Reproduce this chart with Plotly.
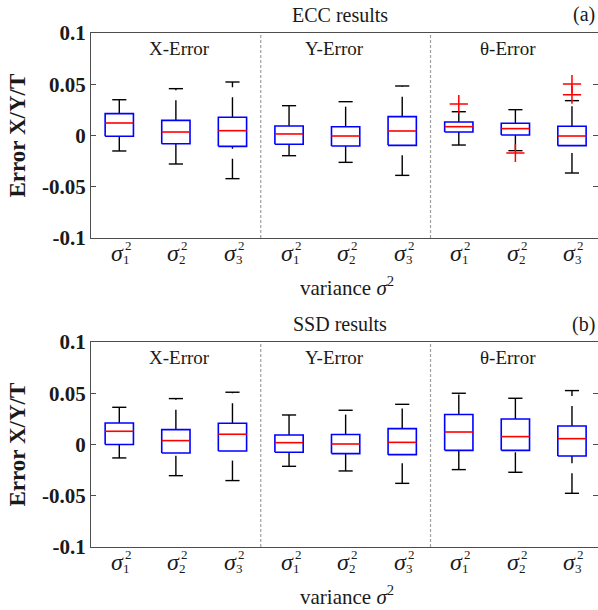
import plotly.graph_objects as go

# ---------------- data ----------------
groups = ["X-Error", "Y-Error", "θ-Error"]
variance_idx = ["1", "2", "3"]
positions = [1, 2, 3, 4, 5, 6, 7, 8, 9]

ecc_lower = [-0.0151, -0.0278, -0.0421, -0.0197, -0.0262, -0.0389, -0.0093, -0.0148, -0.0366]
ecc_q1 = [-0.0008, -0.0080, -0.0106, -0.0086, -0.0102, -0.0096, 0.0034, 0.0005, -0.0099]
ecc_median = [0.0122, 0.0034, 0.0047, 0.0015, -0.0005, 0.0044, 0.0086, 0.0067, -0.0005]
ecc_q3 = [0.0213, 0.0148, 0.0178, 0.0093, 0.0086, 0.0184, 0.0132, 0.0119, 0.0090]
ecc_upper = [0.0349, 0.0457, 0.0522, 0.0291, 0.0330, 0.0483, 0.0232, 0.0252, 0.0340]
ecc_out_pos = [7, 8, 9, 9]
ecc_out_val = [0.0307, -0.0170, 0.0502, 0.0398]

ssd_lower = [-0.0131, -0.0304, -0.0352, -0.0213, -0.0258, -0.0379, -0.0245, -0.0271, -0.0476]
ssd_q1 = [0.0000, -0.0083, -0.0063, -0.0076, -0.0089, -0.0099, -0.0057, -0.0057, -0.0112]
ssd_median = [0.0129, 0.0038, 0.0100, 0.0018, 0.0005, 0.0021, 0.0122, 0.0077, 0.0057]
ssd_q3 = [0.0210, 0.0145, 0.0207, 0.0093, 0.0097, 0.0155, 0.0292, 0.0249, 0.0181]
ssd_upper = [0.0363, 0.0448, 0.0510, 0.0288, 0.0334, 0.0392, 0.0500, 0.0451, 0.0526]
ssd_out_pos = []
ssd_out_val = []

y_ticks = [-0.1, -0.05, 0, 0.05, 0.1]
y_ticktext = ["-0.1", "-0.05", "0", "0.05", "0.1"]
panel_titles = ["ECC results", "SSD results"]
panel_tags = ["(a)", "(b)"]

# ---------------- layout geometry ----------------
W, H = 598, 610
ML, MR, MT, MB = 91, 0, 33, 63
PW = W - ML - MR
PH = H - MT - MB


def py(ypx):
    return (H - MB - ypx) / PH


def px(xpx):
    return (xpx - ML) / PW


SERIF = "'Liberation Serif', 'Times New Roman', Times, serif"
TXT = "#1a1a1a"
BOX_W = 0.5
CAP_W = 0.25

fig = go.Figure()

panels = [
    dict(lo=ecc_lower, q1=ecc_q1, med=ecc_median, q3=ecc_q3, up=ecc_upper,
         op=ecc_out_pos, ov=ecc_out_val, xa="x", ya="y", top=33, bot=238),
    dict(lo=ssd_lower, q1=ssd_q1, med=ssd_median, q3=ssd_q3, up=ssd_upper,
         op=ssd_out_pos, ov=ssd_out_val, xa="x2", ya="y2", top=342, bot=547),
]

for p in panels:
    for i, x in enumerate(positions):
        # whiskers (dashed)
        fig.add_trace(go.Scatter(x=[x, x], y=[p["q3"][i], p["up"][i]], mode="lines",
                                 line=dict(color="black", width=1.4, dash="20px,10px"),
                                 xaxis=p["xa"], yaxis=p["ya"], showlegend=False, hoverinfo="skip"))
        fig.add_trace(go.Scatter(x=[x, x], y=[p["lo"][i], p["q1"][i]], mode="lines",
                                 line=dict(color="black", width=1.4, dash="20px,10px"),
                                 xaxis=p["xa"], yaxis=p["ya"], showlegend=False, hoverinfo="skip"))
        # caps
        fig.add_trace(go.Scatter(x=[x - CAP_W / 2, x + CAP_W / 2, None, x - CAP_W / 2, x + CAP_W / 2],
                                 y=[p["up"][i], p["up"][i], None, p["lo"][i], p["lo"][i]],
                                 mode="lines", line=dict(color="black", width=1.4),
                                 xaxis=p["xa"], yaxis=p["ya"], showlegend=False, hoverinfo="skip"))
        # box
        fig.add_trace(go.Scatter(x=[x - BOX_W / 2, x + BOX_W / 2, x + BOX_W / 2, x - BOX_W / 2, x - BOX_W / 2],
                                 y=[p["q1"][i], p["q1"][i], p["q3"][i], p["q3"][i], p["q1"][i]],
                                 mode="lines", line=dict(color="#0000ff", width=1.6),
                                 xaxis=p["xa"], yaxis=p["ya"], showlegend=False, hoverinfo="skip"))
        # median
        fig.add_trace(go.Scatter(x=[x - BOX_W / 2, x + BOX_W / 2], y=[p["med"][i], p["med"][i]],
                                 mode="lines", line=dict(color="#ff0000", width=1.6),
                                 xaxis=p["xa"], yaxis=p["ya"], showlegend=False, hoverinfo="skip"))
    if p["op"]:
        fig.add_trace(go.Scatter(x=p["op"], y=p["ov"], mode="markers",
                                 marker=dict(symbol="cross-thin", size=13,
                                             line=dict(color="#ff0000", width=1.5)),
                                 xaxis=p["xa"], yaxis=p["ya"], showlegend=False, hoverinfo="skip"))

ax_common = dict(range=[0.5, 9.46], showgrid=False, zeroline=False, showline=True,
                 linecolor="#4d4d4d", linewidth=1.3, mirror=True, ticks="",
                 showticklabels=False, fixedrange=True)
ay_common = dict(range=[-0.1, 0.1], showgrid=False, zeroline=False, showline=True,
                 linecolor="#4d4d4d", linewidth=1.3, ticks="inside", ticklen=5,
                 tickcolor="#4d4d4d", tickvals=y_ticks, ticktext=y_ticktext,
                 tickfont=dict(family=SERIF, size=21, color=TXT, weight="bold"),
                 fixedrange=True)

fig.update_layout(
    width=W, height=H,
    margin=dict(l=ML, r=MR, t=MT, b=MB),
    paper_bgcolor="white", plot_bgcolor="white",
    xaxis=dict(domain=[0, 1], anchor="y", **ax_common),
    yaxis=dict(domain=[py(238), py(33)], anchor="x", **ay_common),
    xaxis2=dict(domain=[0, 1], anchor="y2", **ax_common),
    yaxis2=dict(domain=[0, py(342)], anchor="x2", **ay_common),
    yaxis3=dict(range=[-0.1, 0.1], overlaying="y", side="right", anchor="x",
                showgrid=False, zeroline=False, showline=False, ticks="inside", ticklen=5,
                tickcolor="#4d4d4d", tickvals=y_ticks, showticklabels=False, fixedrange=True),
    yaxis4=dict(range=[-0.1, 0.1], overlaying="y2", side="right", anchor="x2",
                showgrid=False, zeroline=False, showline=False, ticks="inside", ticklen=5,
                tickcolor="#4d4d4d", tickvals=y_ticks, showticklabels=False, fixedrange=True),
)

# dummy traces to activate right axes
fig.add_trace(go.Scatter(x=[None], y=[None], xaxis="x", yaxis="y3", showlegend=False))
fig.add_trace(go.Scatter(x=[None], y=[None], xaxis="x2", yaxis="y4", showlegend=False))

group_label_x = [2.06, 4.8, 7.87]
annotations = []
shapes = []
for k, p in enumerate(panels):
    xa, ya = p["xa"], p["ya"]
    # group dividers
    for dx in [3.5, 6.5]:
        shapes.append(dict(type="line", xref=xa, yref=ya + " domain", x0=dx, x1=dx, y0=0, y1=1,
                           line=dict(color="#a0a0a0", width=1.2, dash="3px,2px")))
    # group labels
    for g, gx in zip(groups, group_label_x):
        annotations.append(dict(text=g, x=gx, y=0.085, xref=xa, yref=ya, showarrow=False,
                                font=dict(family=SERIF, size=19, color=TXT)))
    # x tick labels (sigma_i^2)
    ylab = p["bot"] + 15
    for j, x in enumerate(positions):
        sub = variance_idx[j % 3]
        annotations.append(dict(text="<i>σ</i>", x=x, xshift=-2, y=py(ylab), xref=xa, yref="paper",
                                showarrow=False, yanchor="middle",
                                font=dict(family=SERIF, size=24, color=TXT)))
        annotations.append(dict(text="2", x=x, xshift=9, y=py(ylab - 8), xref=xa, yref="paper",
                                showarrow=False, yanchor="middle",
                                font=dict(family=SERIF, size=13, color=TXT)))
        annotations.append(dict(text=sub, x=x, xshift=7, y=py(ylab + 6), xref=xa, yref="paper",
                                showarrow=False, yanchor="middle",
                                font=dict(family=SERIF, size=13, color=TXT)))
    # x axis title
    annotations.append(dict(text="variance <i>σ</i><sup>2</sup>", x=px(347), y=py(p["bot"] + 48),
                            xref="paper", yref="paper", showarrow=False, yanchor="middle",
                            font=dict(family=SERIF, size=21, color=TXT)))
    # panel title
    annotations.append(dict(text=panel_titles[k], x=px(340), y=py(p["top"] - 18),
                            xref="paper", yref="paper", showarrow=False, yanchor="middle",
                            font=dict(family=SERIF, size=20, color=TXT)))
    annotations.append(dict(text=panel_tags[k], x=px(597), y=py(p["top"] - 18),
                            xref="paper", yref="paper", showarrow=False, xanchor="right",
                            yanchor="middle", font=dict(family=SERIF, size=20, color=TXT)))
    # y axis title
    annotations.append(dict(text="<b>Error X/Y/T</b>", x=px(17), y=py((p["top"] + p["bot"]) / 2),
                            xref="paper", yref="paper", showarrow=False, textangle=-90,
                            xanchor="center", yanchor="middle",
                            font=dict(family=SERIF, size=23, color=TXT)))

fig.update_layout(annotations=annotations, shapes=shapes)

fig.write_html("out.html")
